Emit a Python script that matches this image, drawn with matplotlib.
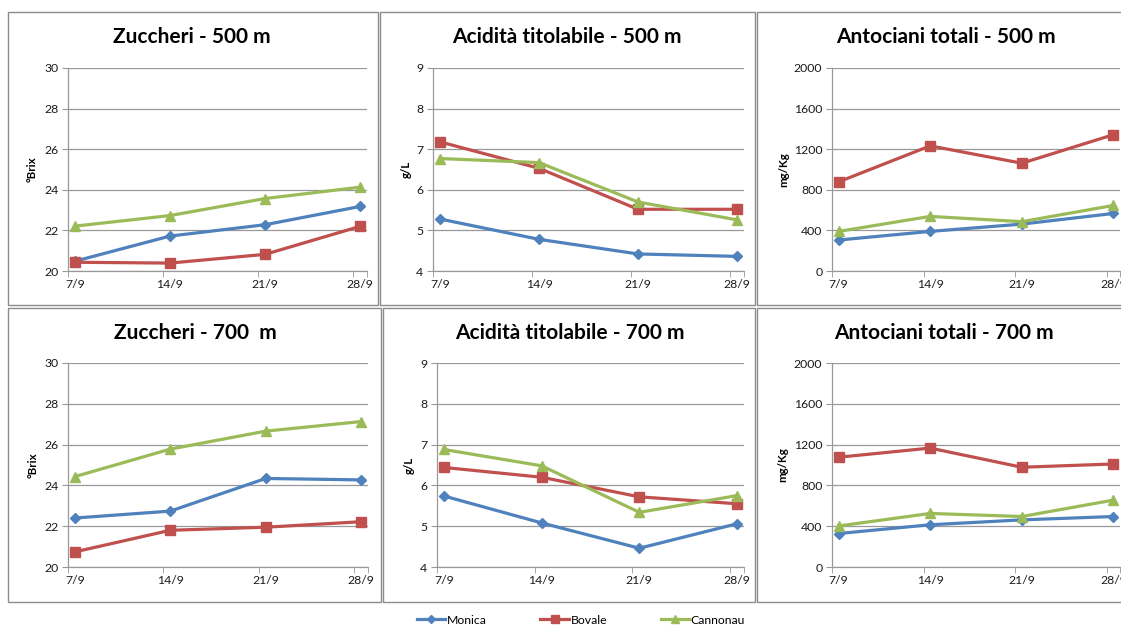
import matplotlib
matplotlib.use("Agg")
import matplotlib.pyplot as plt
from matplotlib.patches import Rectangle

plt.rcParams['font.family'] = ['Lato', 'DejaVu Sans']

# Sampling dates (day/month) and grape varieties
dates = ['7/9', '14/9', '21/9', '28/9']
varieties = ['Monica', 'Bovale', 'Cannonau']

# Zuccheri (°Brix)
brix_500_monica = [20.48, 21.72, 22.28, 23.18]
brix_500_bovale = [20.43, 20.39, 20.82, 22.20]
brix_500_cannonau = [22.21, 22.73, 23.57, 24.13]
brix_700_monica = [22.40, 22.74, 24.34, 24.27]
brix_700_bovale = [20.74, 21.80, 21.95, 22.22]
brix_700_cannonau = [24.43, 25.78, 26.66, 27.13]

# Acidità titolabile (g/L)
acid_500_monica = [5.28, 4.78, 4.42, 4.36]
acid_500_bovale = [7.18, 6.53, 5.52, 5.52]
acid_500_cannonau = [6.77, 6.67, 5.70, 5.26]
acid_700_monica = [5.74, 5.08, 4.46, 5.06]
acid_700_bovale = [6.44, 6.20, 5.72, 5.55]
acid_700_cannonau = [6.88, 6.48, 5.34, 5.75]

# Antociani totali (mg/Kg)
anto_500_monica = [305, 390, 462, 567]
anto_500_bovale = [878, 1233, 1062, 1343]
anto_500_cannonau = [390, 538, 486, 646]
anto_700_monica = [328, 414, 462, 495]
anto_700_bovale = [1076, 1166, 978, 1010]
anto_700_cannonau = [402, 525, 495, 656]

W, H = 1121, 625
COLORS = ['#4F81BD', '#C0504D', '#9BBB59']
MARKERS = [('D', 5.5), ('s', 7.5), ('^', 7.5)]
GRID = '#999999'


def fx(px):
    return px / W


def fy(py):
    return 1 - py / H


def box(left, top, right, bottom):
    return [fx(left), fy(bottom), (right - left) / W, (bottom - top) / H]


fig = plt.figure(figsize=(W / 100, H / 100), dpi=100, facecolor='white')

# chart frames
for l, t, r, b in [(8, 12, 378, 305), (380, 12, 755, 305), (757, 12, 1130, 305),
                   (8, 308, 381, 602), (383, 308, 755, 602), (757, 308, 1130, 602)]:
    fig.add_artist(Rectangle((fx(l), fy(b)), (r - l) / W, (b - t) / H,
                             transform=fig.transFigure, fill=False,
                             edgecolor='#8c8c8c', linewidth=1.0))

day = [int(d.split('/')[0]) for d in dates]
xpos = [d + 0.5 for d in day]

panels = [
    (box(68, 68, 367, 271), 'Zuccheri - 500 m', (192, 37), '°Brix', 32,
     (20, 30, 2), [brix_500_monica, brix_500_bovale, brix_500_cannonau]),
    (box(433, 68, 744, 271), 'Acidità titolabile - 500 m', (567, 37), 'g/L', 406,
     (4, 9, 1), [acid_500_monica, acid_500_bovale, acid_500_cannonau]),
    (box(832, 68, 1120, 271), 'Antociani totali - 500 m', (946, 37), 'mg/Kg', 784,
     (0, 2000, 400), [anto_500_monica, anto_500_bovale, anto_500_cannonau]),
    (box(68, 363, 368, 567), 'Zuccheri - 700  m', (195, 333), '°Brix', 33,
     (20, 30, 2), [brix_700_monica, brix_700_bovale, brix_700_cannonau]),
    (box(437, 363, 744, 567), 'Acidità titolabile - 700 m', (570, 333), 'g/L', 409,
     (4, 9, 1), [acid_700_monica, acid_700_bovale, acid_700_cannonau]),
    (box(832, 363, 1120, 567), 'Antociani totali - 700 m', (944, 333), 'mg/Kg', 783,
     (0, 2000, 400), [anto_700_monica, anto_700_bovale, anto_700_cannonau]),
]

handles = []
for rect, title, (tx, ty), ylabel, ylx, (y0, y1, step), series in panels:
    ax = fig.add_axes(rect)
    for vals, color, (mk, ms) in zip(series, COLORS, MARKERS):
        line, = ax.plot(xpos, vals, color=color, linewidth=2.3, marker=mk,
                        markersize=ms, markeredgecolor=color, clip_on=False,
                        zorder=3)
        if len(handles) < 3:
            handles.append(line)

    ax.set_xlim(day[0], day[-1] + 1)
    ax.set_ylim(y0, y1)
    ax.set_yticks(range(y0, y1 + 1, step))
    ax.set_xticks(xpos)
    ax.set_xticklabels(dates)
    ax.set_xticks(day + [day[-1] + 1], minor=True)
    ax.tick_params(axis='x', which='major', length=0, pad=6)
    ax.tick_params(axis='x', which='minor', length=4, color=GRID, direction='out')
    ax.tick_params(axis='y', length=4, color=GRID, pad=3)
    ax.tick_params(labelsize=8.8, labelcolor='#1a1a1a')
    ax.yaxis.grid(True, color=GRID, linewidth=0.9)
    ax.set_axisbelow(True)
    for side in ['top', 'right']:
        ax.spines[side].set_visible(False)
    for side in ['left', 'bottom']:
        ax.spines[side].set_color(GRID)
        ax.spines[side].set_linewidth(0.9)

    fig.text(fx(tx), fy(ty), title, ha='center', va='center',
             fontsize=15, fontweight='bold', color='black')
    fig.text(fx(ylx), (rect[1] + rect[3] / 2), ylabel, ha='center', va='center',
             rotation=90, fontsize=8.3, fontweight='bold', color='black')

fig.legend(handles, varieties, loc='center', bbox_to_anchor=(fx(581), fy(620)),
           ncol=3, frameon=False, fontsize=8.8, handlelength=2.3,
           handletextpad=0.15, columnspacing=4.4, markerscale=0.75)

fig.savefig('out.png', dpi=100, facecolor='white')
